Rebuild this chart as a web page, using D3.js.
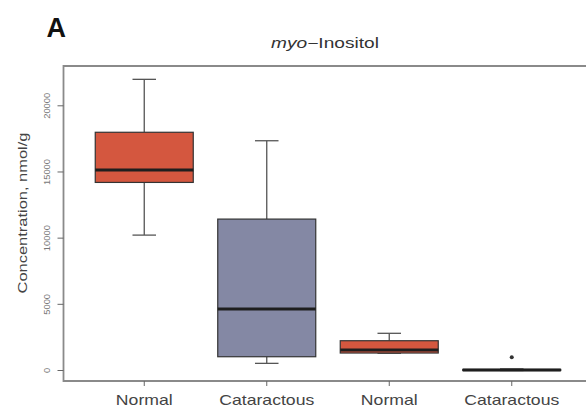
<!DOCTYPE html>
<html>
<head>
<meta charset="utf-8">
<script src="https://cdn.jsdelivr.net/npm/d3@7"></script>
<style>
  body { margin: 0; background: #fff; }
  svg { display: block; font-family: "Liberation Sans", Arial, sans-serif; }
</style>
</head>
<body>
<div id="chart"></div>
<script>
// group labels and box stats
const groups = ["Normal", "Cataractous", "Normal", "Cataractous"];
const fills = ["#d4573f", "#8488a4", "#d4573f", "#8488a4"];
const whiskLow = [10230, 540, 1300, 0];
const q1 = [14210, 1040, 1320, 0];
const median = [15150, 4640, 1550, 40];
const q3 = [18000, 11440, 2250, 80];
const whiskHigh = [22000, 17360, 2810, 120];
const outliers = [[], [], [], [1000]];
const yTicks = [0, 5000, 10000, 15000, 20000];

const width = 586, height = 408;
const svg = d3.select("#chart").append("svg")
  .attr("width", width).attr("height", height);

const x = d3.scaleBand()
  .domain(d3.range(groups.length))
  .range([83, 573])
  .paddingInner(0.2).paddingOuter(0.1);

const y = d3.scaleLinear()
  .domain([0, 20000])
  .range([370.5, 105.8]);

// frame: left, bottom and top lines
svg.append("path")
  .attr("d", "M586,66 H63.5 V381 H586")
  .attr("fill", "none")
  .attr("stroke", "#8a8a8a")
  .attr("stroke-width", 1.8);

// y axis ticks
const yg = svg.append("g").attr("transform", "translate(63.5,0)");
yg.selectAll("line").data(yTicks).enter().append("line")
  .attr("x1", -6).attr("x2", 0)
  .attr("y1", d => y(d)).attr("y2", d => y(d))
  .attr("stroke", "#666");
yg.selectAll("text").data(yTicks).enter().append("text")
  .attr("transform", d => "translate(-13.5," + y(d) + ") rotate(-90) scale(1.1,1)")
  .attr("text-anchor", "middle")
  .attr("font-size", 8.5)
  .attr("fill", "#777")
  .text(d => d);

svg.append("text")
  .attr("transform", "translate(26.5,213) rotate(-90) scale(1.22,1)")
  .attr("text-anchor", "middle")
  .attr("font-size", 13.5)
  .attr("fill", "#444")
  .text("Concentration, nmol/g");

// x axis ticks and labels
const xg = svg.append("g");
groups.forEach(function(g, i) {
  const cx = x(i) + x.bandwidth() / 2;
  xg.append("line")
    .attr("x1", cx).attr("x2", cx)
    .attr("y1", 381).attr("y2", 386)
    .attr("stroke", "#666");
  xg.append("text")
    .attr("transform", "translate(" + cx + ",404.5) scale(1.26,1)")
    .attr("text-anchor", "middle")
    .attr("font-size", 14)
    .attr("fill", "#444")
    .text(g);
});

// boxes
const boxes = svg.append("g").selectAll("g")
  .data(groups.map((g, i) => i))
  .enter().append("g");

boxes.each(function(i) {
  const g = d3.select(this);
  const x0 = x(i), bw = x.bandwidth(), cx = x0 + bw / 2, cap = bw * 0.12;

  g.append("line")
    .attr("x1", cx).attr("x2", cx)
    .attr("y1", y(whiskHigh[i])).attr("y2", y(q3[i]))
    .attr("stroke", "#555").attr("stroke-width", 1.3);
  g.append("line")
    .attr("x1", cx).attr("x2", cx)
    .attr("y1", y(whiskLow[i])).attr("y2", y(q1[i]))
    .attr("stroke", "#555").attr("stroke-width", 1.3);
  [whiskHigh[i], whiskLow[i]].forEach(function(v) {
    g.append("line")
      .attr("x1", cx - cap).attr("x2", cx + cap)
      .attr("y1", y(v)).attr("y2", y(v))
      .attr("stroke", "#555").attr("stroke-width", 1.3);
  });

  g.append("rect")
    .attr("x", x0).attr("width", bw)
    .attr("y", y(q3[i]))
    .attr("height", Math.max(y(q1[i]) - y(q3[i]), 0.5))
    .attr("fill", fills[i])
    .attr("stroke", "#333").attr("stroke-width", 1.2);

  g.append("line")
    .attr("x1", x0).attr("x2", x0 + bw)
    .attr("y1", y(median[i])).attr("y2", y(median[i]))
    .attr("stroke", "#1e1e1e").attr("stroke-width", 3);

  g.selectAll("circle").data(outliers[i]).enter().append("circle")
    .attr("cx", cx).attr("cy", d => y(d))
    .attr("r", 2)
    .attr("fill", "#333");
});

// title and panel letter
svg.append("text")
  .attr("transform", "translate(325,47.5) scale(1.32,1)")
  .attr("text-anchor", "middle")
  .attr("font-size", 14.5)
  .attr("fill", "#333")
  .html('<tspan font-style="italic">myo</tspan>\u2212Inositol');

svg.append("text")
  .attr("x", 46.5).attr("y", 37)
  .attr("font-size", 27)
  .attr("font-weight", "bold")
  .attr("fill", "#111")
  .text("A");
</script>
</body>
</html>
